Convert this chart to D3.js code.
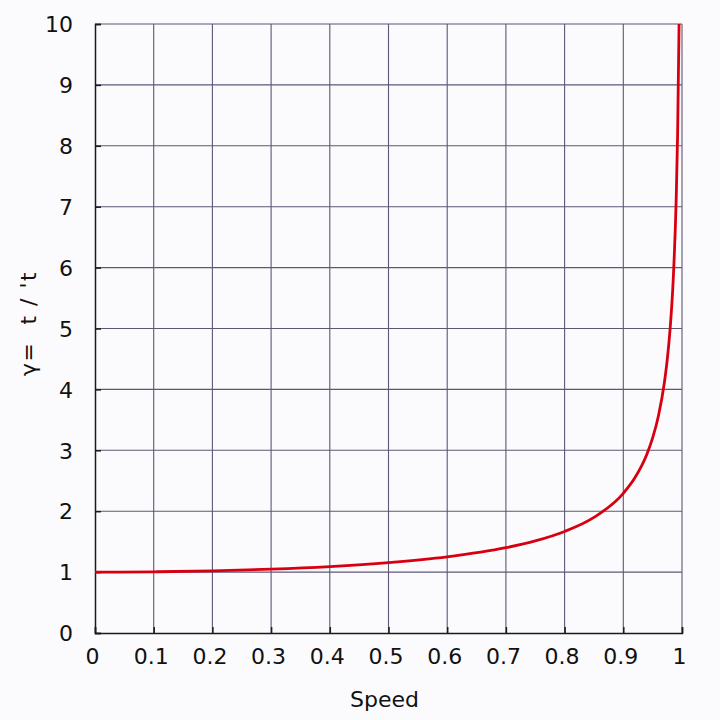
<!DOCTYPE html>
<html><head><meta charset="utf-8">
<script src="https://cdn.jsdelivr.net/npm/d3@7"></script>
<style>body{margin:0;background:#fbfbfd;}svg{display:block;}</style>
</head><body>
<svg id="c" width="720" height="720"></svg>
<script>
const speeds = [0,0.1,0.2,0.3,0.4,0.5,0.6,0.7,0.75,0.8,0.85,0.9,0.92,0.94,0.95,0.96,0.97,0.975,0.98,0.985,0.99,0.9925,0.995];
const gammas = [1,1.005,1.02,1.048,1.091,1.155,1.25,1.40,1.512,1.667,1.898,2.294,2.552,2.931,3.203,3.571,4.113,4.500,5.025,5.795,7.089,8.18,10.0];
const xTicks = [0,0.1,0.2,0.3,0.4,0.5,0.6,0.7,0.8,0.9,1];
const yTicks = [0,1,2,3,4,5,6,7,8,9,10];
const xLabel = "Speed";
const yLabel = "γ=  t / 't";

const svg = d3.select("#c");
const m = {l:95, r:682, t:24, b:633};
const x = d3.scaleLinear().domain([0,1]).range([m.l,m.r]);
const y = d3.scaleLinear().domain([0,10]).range([m.b,m.t]);
const font = "DejaVu Sans, sans-serif";
const grid = "#5e5676";
const fs = 22;

const g = svg.append("g");
g.selectAll("line.vx").data(xTicks.slice(1)).enter().append("line")
  .attr("x1",d=>x(d)).attr("x2",d=>x(d)).attr("y1",m.t).attr("y2",m.b)
  .attr("stroke",grid).attr("stroke-width",1.1);
g.selectAll("line.hy").data(yTicks.slice(1)).enter().append("line")
  .attr("y1",d=>y(d)).attr("y2",d=>y(d)).attr("x1",m.l).attr("x2",m.r)
  .attr("stroke",grid).attr("stroke-width",1.1);

const xAxis = d3.axisBottom(x).tickValues(xTicks).tickSize(-6).tickPadding(15)
  .tickFormat(d=>d===0?"0":d===1?"1":d3.format(".1f")(d));
const ya = d3.axisLeft(y).tickValues(yTicks).tickSize(-6).tickPadding(22).tickFormat(d3.format("d"));
const gx = svg.append("g").attr("transform",`translate(0,${m.b})`).call(xAxis);
const gy = svg.append("g").attr("transform",`translate(${m.l},0)`).call(ya);
[gx,gy].forEach(a=>{
  a.select(".domain").attr("stroke","#1a1a1a").attr("stroke-width",1.5);
  a.selectAll(".tick line").attr("stroke","#1a1a1a").attr("stroke-width",1.5);
  a.selectAll("text").attr("font-family",font).attr("font-size",fs).attr("fill","#111");
});
gx.selectAll("text").attr("dx",-3);
gy.selectAll("text").attr("dy","0.35em");

const line = d3.line().x((d,i)=>x(speeds[i])).y(d=>y(d)).curve(d3.curveMonotoneX);
svg.append("path").datum(gammas).attr("d",line).attr("fill","none")
  .attr("stroke","#d80010").attr("stroke-width",2.8);

svg.append("text").attr("x",(m.l+m.r)/2-4).attr("y",707).attr("text-anchor","middle")
  .attr("font-family",font).attr("font-size",fs).attr("fill","#111").text(xLabel);
svg.append("text").attr("transform",`translate(36,${(m.t+m.b)/2-5}) rotate(-90)`)
  .attr("text-anchor","middle").attr("font-family",font).attr("font-size",fs)
  .attr("fill","#111").style("white-space","pre").style("letter-spacing","1.5px").text(yLabel);
</script>
</body></html>
